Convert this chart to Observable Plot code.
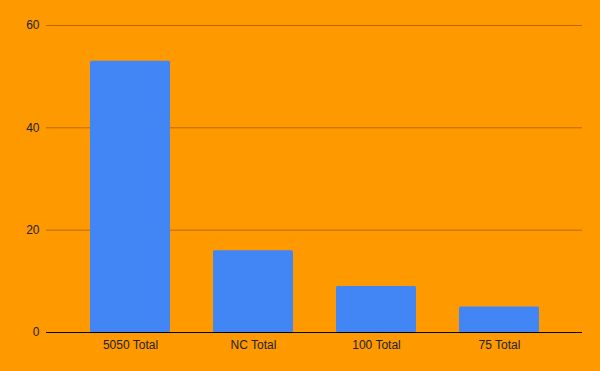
<!DOCTYPE html>
<html>
<head>
<meta charset="utf-8">
<script src="https://cdn.jsdelivr.net/npm/d3@7"></script>
<script src="https://cdn.jsdelivr.net/npm/@observablehq/plot@0.6"></script>
<style>
  html, body { margin: 0; padding: 0; background: #FF9900; }
</style>
</head>
<body>
<div id="chart"></div>
<script>
const categories = ["5050 Total", "NC Total", "100 Total", "75 Total"];
const values = [53, 16, 9, 5];
const yTicks = [0, 20, 40, 60];

const data = categories.map((c, i) => ({category: c, value: values[i]}));

const chart = Plot.plot({
  width: 600,
  height: 371,
  marginLeft: 46,
  marginRight: 18,
  marginTop: 25,
  marginBottom: 39,
  style: {
    background: "#FF9900",
    fontFamily: "'Liberation Sans', Arial, sans-serif",
    fontSize: "12px",
    color: "#222222"
  },
  x: {domain: categories, padding: 0.35, label: null, tickSize: 0, tickPadding: 8},
  y: {domain: [0, 60], ticks: yTicks, label: null, tickSize: 0, tickPadding: 7},
  marks: [
    Plot.ruleY(yTicks.slice(1), {stroke: "#000", strokeOpacity: 0.3}),
    Plot.barY(data, {x: "category", y: "value", fill: "#4285F4", rx: 1.5}),
    Plot.ruleY([0], {stroke: "#000"})
  ]
});
document.getElementById("chart").appendChild(chart);
</script>
</body>
</html>
